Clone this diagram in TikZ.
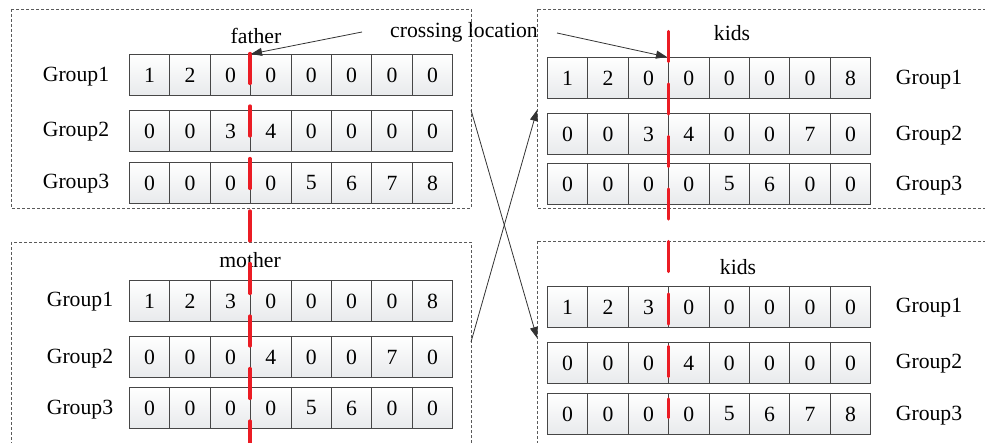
\documentclass[tikz,border=0pt]{standalone}
\usepackage{fontspec}
\setmainfont{Liberation Serif}
\usetikzlibrary{arrows.meta}
\definecolor{cellline}{RGB}{70,70,70}
\definecolor{cellbot}{RGB}{232,234,236}
\definecolor{redline}{RGB}{235,28,36}
\definecolor{boxline}{RGB}{90,90,90}
\begin{document}
\begin{tikzpicture}[x=1pt,y=-1pt,
  font=\fontsize{21.7}{26}\selectfont,
  cellbox/.style={draw=cellline,line width=0.9pt,top color=white,bottom color=cellbot,
    minimum width=40.4pt,minimum height=41pt,inner sep=0pt,anchor=north west},
  panel/.style={draw=boxline,line width=0.8pt,dash pattern=on 3pt off 2pt},
  redcut/.style={draw=redline,line width=3.2pt,line cap=round,dash pattern=on 30pt off 22.5pt},
  conn/.style={draw=black!80,line width=0.8pt,-{Triangle[length=11pt,width=8pt]}},
  lbl/.style={anchor=base,inner sep=0pt}
]
\useasboundingbox (0,0) rectangle (985,443);
\clip (0,0) rectangle (985,443);

% panels
\draw[panel] (11,9) rectangle (471,208);
\draw[panel] (537,9) rectangle (1000,208);
\draw[panel] (11,242) rectangle (471,460);
\draw[panel] (537,241) rectangle (1000,460);
\coordinate (ftR) at (471,110);
\coordinate (moR) at (471,342);
\coordinate (k1L) at (537,110);
\coordinate (k2L) at (537,338);

% rows: \row{name}{x0}{ytop}{values}
\newcommand{\cellrow}[4]{%
  \foreach \v [count=\i] in {#4} {
    \node[cellbox] (#1-\i) at ({#2+(\i-1)*40.4},#3) {\v};
  }%
}
% father
\cellrow{fa1}{129}{54}{1,2,0,0,0,0,0,0}
\cellrow{fa2}{129}{110}{0,0,3,4,0,0,0,0}
\cellrow{fa3}{129}{162}{0,0,0,0,5,6,7,8}
% mother
\cellrow{mo1}{129}{280}{1,2,3,0,0,0,0,8}
\cellrow{mo2}{129}{336}{0,0,0,4,0,0,7,0}
\cellrow{mo3}{129}{387}{0,0,0,0,5,6,0,0}
% kids top
\cellrow{ka1}{547}{57}{1,2,0,0,0,0,0,8}
\cellrow{ka2}{547}{113}{0,0,3,4,0,0,7,0}
\cellrow{ka3}{547}{163}{0,0,0,0,5,6,0,0}
% kids bottom
\cellrow{kb1}{547}{286}{1,2,3,0,0,0,0,0}
\cellrow{kb2}{547}{342}{0,0,0,4,0,0,0,0}
\cellrow{kb3}{547}{393}{0,0,0,0,5,6,7,8}

% group labels
\node[lbl] (gfa1) at (76,82) {Group1};
\node[lbl] (gfa2) at (76,137) {Group2};
\node[lbl] (gfa3) at (76,189) {Group3};
\node[lbl] (gmo1) at (80,307) {Group1};
\node[lbl] (gmo2) at (80,363) {Group2};
\node[lbl] (gmo3) at (80,414) {Group3};
\node[lbl] (gka1) at (929,85) {Group1};
\node[lbl] (gka2) at (929,141) {Group2};
\node[lbl] (gka3) at (929,191) {Group3};
\node[lbl] (gkb1) at (929,313) {Group1};
\node[lbl] (gkb2) at (929,369) {Group2};
\node[lbl] (gkb3) at (929,420) {Group3};

% titles
\node[lbl] (father) at (256,44) {father};
\node[lbl] (mother) at (250,268) {mother};
\node[lbl] (kidsa) at (732,41) {kids};
\node[lbl] (kidsb) at (738,275) {kids};
\node[lbl] (cross) at (464,38) {crossing location};

% red cut lines
\coordinate (cutLtop) at (250,53.5);
\coordinate (cutLbot) at (250,460);
\coordinate (cutRtop) at (668.5,31.5);
\coordinate (cutRbot) at (668.5,417.5);
\draw[redcut] (cutLtop) -- (cutLbot);
\draw[redcut] (cutRtop) -- (cutRbot);

% crossing location arrows
\coordinate (crA) at (362,32);
\coordinate (crB) at (557,33);
\coordinate (tipA) at (251,54);
\coordinate (tipB) at (667,57);
\draw[conn] (crA) -- (tipA);
\draw[conn] (crB) -- (tipB);

% crossover arrows
\draw[conn] (ftR) -- (k2L);
\draw[conn] (moR) -- (k1L);
\end{tikzpicture}
\end{document}
